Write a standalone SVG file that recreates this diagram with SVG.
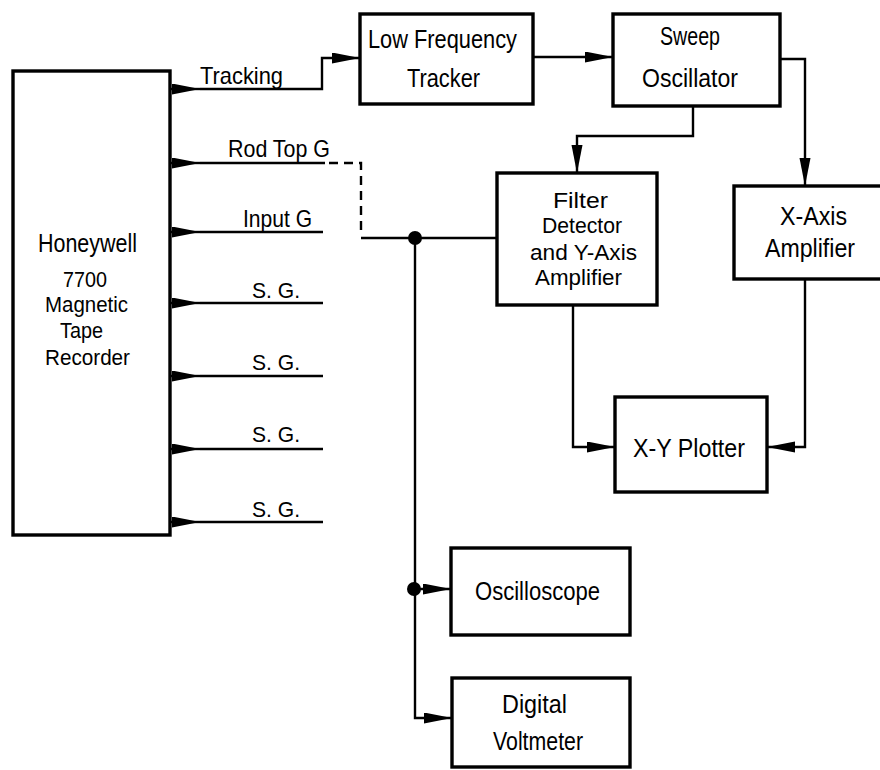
<svg xmlns="http://www.w3.org/2000/svg" width="880" height="770" viewBox="0 0 880 770">
<defs>
<style>
.box{fill:#fff;stroke:#000;stroke-width:3.4}
.ln{fill:none;stroke:#000;stroke-width:2.4}
.dash{fill:none;stroke:#000;stroke-width:2.4;stroke-dasharray:9,6}
text{font-family:"Liberation Sans",Arial,sans-serif;font-size:25px;fill:#000}
.sig{font-size:24px}
.sg{font-size:22px}
.tight{font-size:22px}
</style>
<marker id="ah" markerUnits="userSpaceOnUse" markerWidth="30" markerHeight="12" refX="28" refY="5.5" orient="auto">
<path d="M0,0 L28,5.5 L0,11 Z" fill="#000"/>
</marker>
</defs>
<rect width="880" height="770" fill="#fff"/>

<g id="connectors">
<path class="ln" d="M170,89 H200" marker-end="url(#ah)"/>
<path class="ln" d="M200,89 H322 V58 H360" marker-end="url(#ah)"/>
<path class="ln" d="M170,163 H200" marker-end="url(#ah)"/>
<path class="ln" d="M200,163 H325"/>
<path class="dash" d="M329,163 H361 V236"/>
<path class="ln" d="M361,238 H497"/>
<path class="ln" d="M170,232 H200" marker-end="url(#ah)"/>
<path class="ln" d="M200,232 H323"/>
<path class="ln" d="M170,303 H200" marker-end="url(#ah)"/>
<path class="ln" d="M200,303 H323"/>
<path class="ln" d="M170,376 H200" marker-end="url(#ah)"/>
<path class="ln" d="M200,376 H323"/>
<path class="ln" d="M170,449 H200" marker-end="url(#ah)"/>
<path class="ln" d="M200,449 H323"/>
<path class="ln" d="M170,522 H200" marker-end="url(#ah)"/>
<path class="ln" d="M200,522 H323"/>
<path class="ln" d="M533,57 H613" marker-end="url(#ah)"/>
<path class="ln" d="M693,106 V136 H577 V173" marker-end="url(#ah)"/>
<path class="ln" d="M780,59 H805 V186" marker-end="url(#ah)"/>
<path class="ln" d="M573,305 V447 H615" marker-end="url(#ah)"/>
<path class="ln" d="M805,279 V447 H767" marker-end="url(#ah)"/>
<path class="ln" d="M415,238 V718 H452" marker-end="url(#ah)"/>
<path class="ln" d="M415,589 H451" marker-end="url(#ah)"/>
<circle cx="415" cy="238" r="7" fill="#000"/>
<circle cx="414" cy="589" r="7" fill="#000"/>
<text class="sig" x="200" y="84" textLength="83" lengthAdjust="spacingAndGlyphs">Tracking</text>
<text class="sig" x="228" y="157" textLength="102" lengthAdjust="spacingAndGlyphs">Rod Top G</text>
<text class="sig" x="243" y="227" textLength="69" lengthAdjust="spacingAndGlyphs">Input G</text>
<text class="sg" x="252" y="298" textLength="48" lengthAdjust="spacingAndGlyphs">S. G.</text>
<text class="sg" x="252" y="370" textLength="48" lengthAdjust="spacingAndGlyphs">S. G.</text>
<text class="sg" x="252" y="442" textLength="48" lengthAdjust="spacingAndGlyphs">S. G.</text>
<text class="sg" x="252" y="517" textLength="48" lengthAdjust="spacingAndGlyphs">S. G.</text>
</g>

<g id="recorder">
<rect class="box" x="13" y="71" width="157" height="464"/>
<text x="38" y="252" textLength="99" lengthAdjust="spacingAndGlyphs">Honeywell</text>
<text class="tight" x="63" y="287" textLength="44" lengthAdjust="spacingAndGlyphs">7700</text>
<text class="tight" x="45" y="312" textLength="83" lengthAdjust="spacingAndGlyphs">Magnetic</text>
<text class="tight" x="60" y="338" textLength="43" lengthAdjust="spacingAndGlyphs">Tape</text>
<text class="tight" x="45" y="365" textLength="85" lengthAdjust="spacingAndGlyphs">Recorder</text>
</g>

<g id="lf-tracker">
<rect class="box" x="360" y="14" width="173" height="90"/>
<text x="368" y="48" textLength="149" lengthAdjust="spacingAndGlyphs">Low Frequency</text>
<text x="407" y="87" textLength="73" lengthAdjust="spacingAndGlyphs">Tracker</text>
</g>

<g id="sweep-oscillator">
<rect class="box" x="613" y="14" width="167" height="92"/>
<text x="660" y="45" textLength="60" lengthAdjust="spacingAndGlyphs">Sweep</text>
<text x="642" y="87" textLength="96" lengthAdjust="spacingAndGlyphs">Oscillator</text>
</g>

<g id="filter-detector">
<rect class="box" x="497" y="173" width="160" height="132"/>
<text class="tight" x="553" y="208" textLength="55" lengthAdjust="spacingAndGlyphs">Filter</text>
<text class="tight" x="542" y="233" textLength="80" lengthAdjust="spacingAndGlyphs">Detector</text>
<text class="tight" x="530" y="260" textLength="107" lengthAdjust="spacingAndGlyphs">and Y-Axis</text>
<text class="tight" x="535" y="285" textLength="87" lengthAdjust="spacingAndGlyphs">Amplifier</text>
</g>

<g id="x-axis-amplifier">
<rect class="box" x="734" y="186" width="154" height="93"/>
<text x="780" y="225" textLength="67" lengthAdjust="spacingAndGlyphs">X-Axis</text>
<text x="765" y="257" textLength="90" lengthAdjust="spacingAndGlyphs">Amplifier</text>
</g>

<g id="xy-plotter">
<rect class="box" x="615" y="397" width="152" height="95"/>
<text x="633" y="457" textLength="112" lengthAdjust="spacingAndGlyphs">X-Y Plotter</text>
</g>

<g id="oscilloscope">
<rect class="box" x="451" y="548" width="179" height="87"/>
<text x="475" y="600" textLength="125" lengthAdjust="spacingAndGlyphs">Oscilloscope</text>
</g>

<g id="digital-voltmeter">
<rect class="box" x="452" y="678" width="178" height="89"/>
<text x="502" y="713" textLength="65" lengthAdjust="spacingAndGlyphs">Digital</text>
<text x="493" y="750" textLength="90" lengthAdjust="spacingAndGlyphs">Voltmeter</text>
</g>
</svg>
